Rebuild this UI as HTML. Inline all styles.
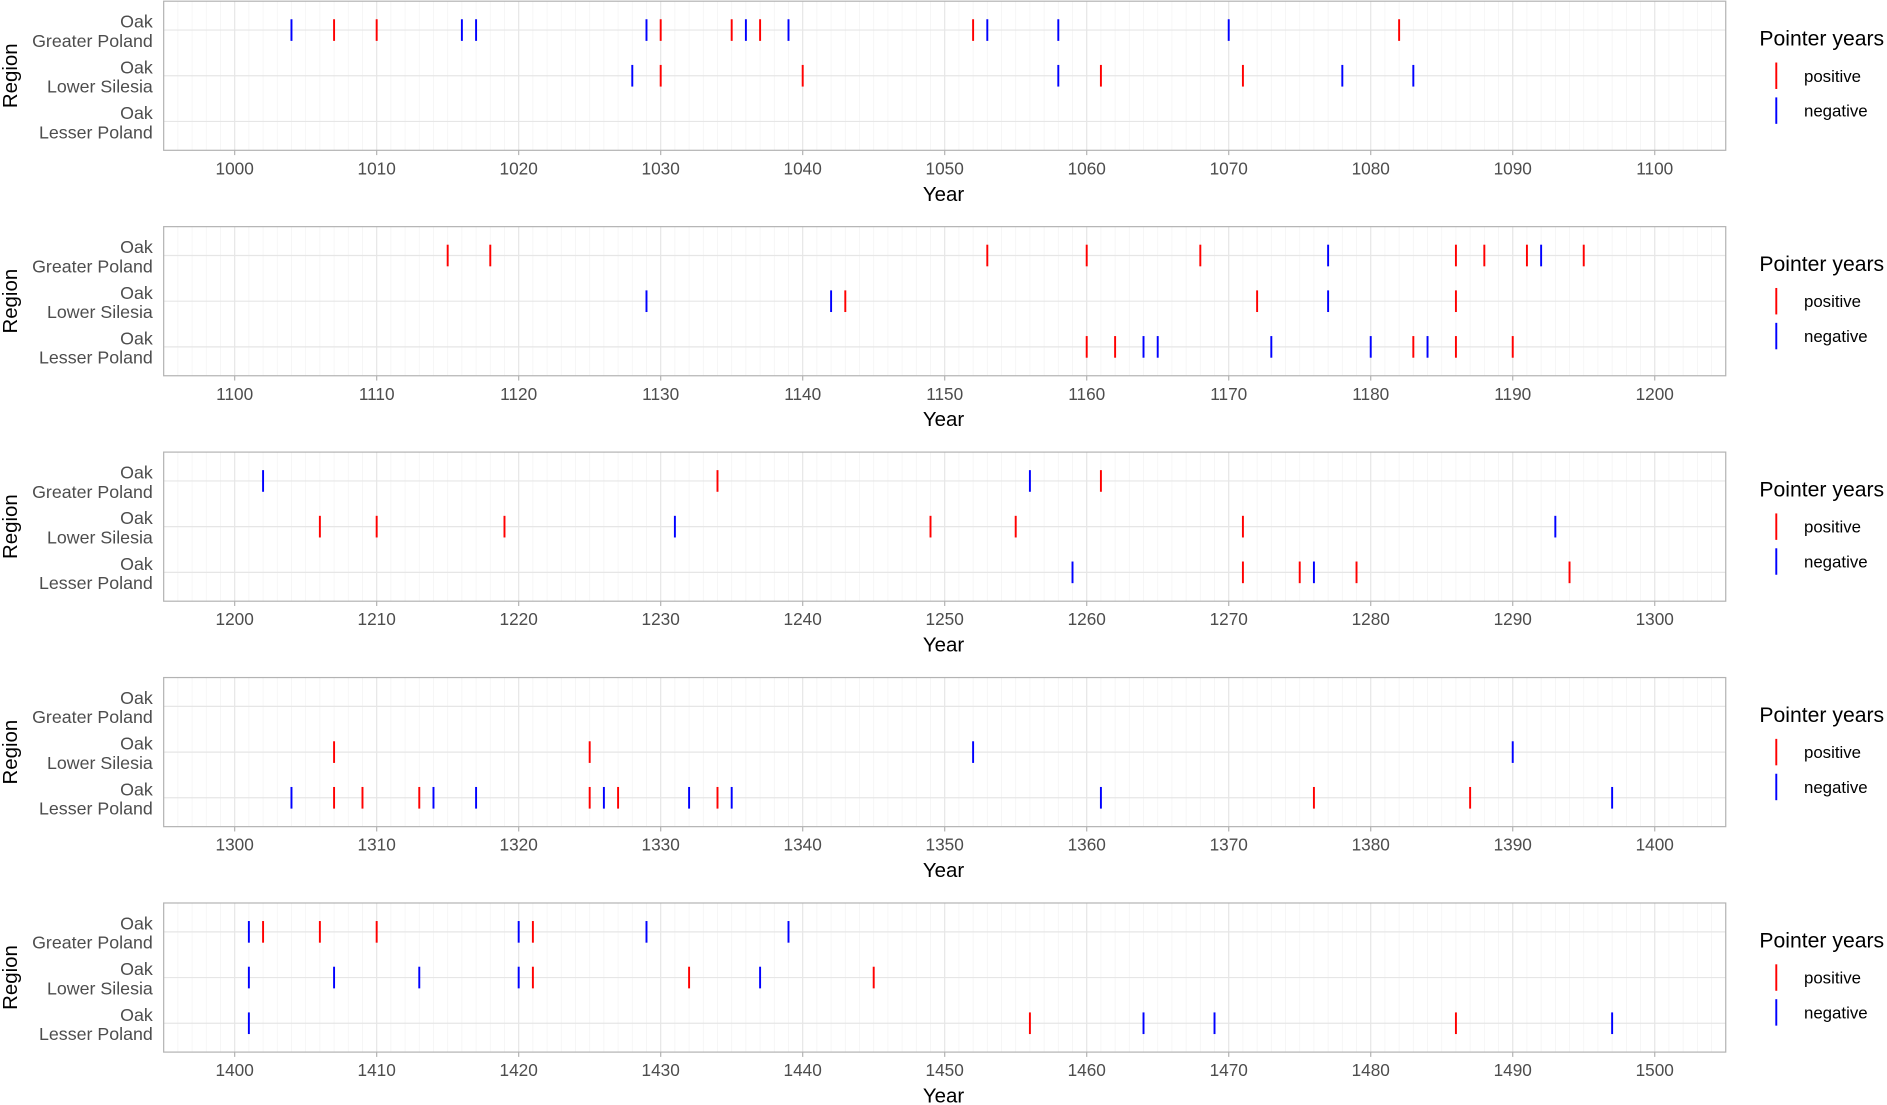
<!DOCTYPE html>
<html><head><meta charset="utf-8">
<style>
html,body{margin:0;padding:0;background:#fff;}
svg{display:block;font-family:"Liberation Sans",sans-serif;}
</style></head>
<body>
<svg id="chart" width="1887" height="1105" viewBox="0 0 1568 919" preserveAspectRatio="none" xmlns="http://www.w3.org/2000/svg"></svg>
<script>
const panelBases = [1000, 1100, 1200, 1300, 1400];
const regions = ["Greater Poland", "Lower Silesia", "Lesser Poland"];
// [year, regionIndex, type]  type: 'p' positive, 'n' negative
const panel1Events = [[1004,0,'n'],[1007,0,'p'],[1010,0,'p'],[1016,0,'n'],[1017,0,'n'],[1029,0,'n'],[1030,0,'p'],[1035,0,'p'],[1036,0,'n'],[1037,0,'p'],[1039,0,'n'],[1052,0,'p'],[1053,0,'n'],[1058,0,'n'],[1070,0,'n'],[1082,0,'p'],
[1028,1,'n'],[1030,1,'p'],[1040,1,'p'],[1058,1,'n'],[1061,1,'p'],[1071,1,'p'],[1078,1,'n'],[1083,1,'n']];
const panel2Events = [[1115,0,'p'],[1118,0,'p'],[1153,0,'p'],[1160,0,'p'],[1168,0,'p'],[1177,0,'n'],[1186,0,'p'],[1188,0,'p'],[1191,0,'p'],[1192,0,'n'],[1195,0,'p'],
[1129,1,'n'],[1142,1,'n'],[1143,1,'p'],[1172,1,'p'],[1177,1,'n'],[1186,1,'p'],
[1160,2,'p'],[1162,2,'p'],[1164,2,'n'],[1165,2,'n'],[1173,2,'n'],[1180,2,'n'],[1183,2,'p'],[1184,2,'n'],[1186,2,'p'],[1190,2,'p']];
const panel3Events = [[1202,0,'n'],[1234,0,'p'],[1256,0,'n'],[1261,0,'p'],
[1206,1,'p'],[1210,1,'p'],[1219,1,'p'],[1231,1,'n'],[1249,1,'p'],[1255,1,'p'],[1271,1,'p'],[1293,1,'n'],
[1259,2,'n'],[1271,2,'p'],[1275,2,'p'],[1276,2,'n'],[1279,2,'p'],[1294,2,'p']];
const panel4Events = [[1307,1,'p'],[1325,1,'p'],[1352,1,'n'],[1390,1,'n'],
[1304,2,'n'],[1307,2,'p'],[1309,2,'p'],[1313,2,'p'],[1314,2,'n'],[1317,2,'n'],[1325,2,'p'],[1326,2,'n'],[1327,2,'p'],[1332,2,'n'],[1334,2,'p'],[1335,2,'n'],[1361,2,'n'],[1376,2,'p'],[1387,2,'p'],[1397,2,'n']];
const panel5Events = [[1401,0,'n'],[1402,0,'p'],[1406,0,'p'],[1410,0,'p'],[1420,0,'n'],[1421,0,'p'],[1429,0,'n'],[1439,0,'n'],
[1401,1,'n'],[1407,1,'n'],[1413,1,'n'],[1420,1,'n'],[1421,1,'p'],[1432,1,'p'],[1437,1,'n'],[1445,1,'p'],
[1401,2,'n'],[1456,2,'p'],[1464,2,'n'],[1469,2,'n'],[1486,2,'p'],[1497,2,'n']];
const allEvents = [panel1Events, panel2Events, panel3Events, panel4Events, panel5Events];

const NS = "http://www.w3.org/2000/svg";
const svg = document.getElementById('chart');
function mk(tag, attrs, parent, text){
  const e = document.createElementNS(NS, tag);
  for (const k in attrs) e.setAttribute(k, attrs[k]);
  if (text !== undefined) e.textContent = text;
  parent.appendChild(e);
  return e;
}
const X0 = 136, X1 = 1434, PH = 124;
const rowY = [24, 62, 100];
const colors = {p:'#ff0000', n:'#0000ff'};

panelBases.forEach((base, pi) => {
  const top = 1 + pi * 187.5;
  const g = mk('g', {transform:`translate(0,${top})`}, svg);
  
  
  const xs = y => X0 + (y - (base - 5)) / 110 * (X1 - X0);
  for (let y = base - 5; y <= base + 105; y++) {
    const major = (y % 10 === 0);
    const l = mk('line', {x1:xs(y), x2:xs(y), y1:0, y2:PH, stroke: major ? '#e6e6e6' : '#f3f3f3', 'stroke-width': major ? 1 : 0.6}, g);
    
    
  }
  rowY.forEach(ry => {
    const l = mk('line', {x1:X0, x2:X1, y1:ry, y2:ry, stroke:'#e6e6e6', 'stroke-width':1}, g);
    
    
  });
  const frame = mk('rect', {x:X0, y:0, width:X1-X0, height:PH, fill:'none', stroke:'#b3b3b3', 'stroke-width':1}, g);
  
  
  allEvents[pi].forEach(ev => {
    const x = xs(ev[0]);
    const m = mk('line', {x1:x, x2:x, y1:rowY[ev[1]]-9, y2:rowY[ev[1]]+9, stroke:colors[ev[2]], 'stroke-width':1.6}, g);
    
    
  });
  regions.forEach((r, ri) => {
    const t1 = mk('text', {x:127, y:rowY[ri]-2, 'text-anchor':'end', 'font-size':14.8, fill:'#4d4d4d'}, g, 'Oak');
    
    
    const t2 = mk('text', {x:127, y:rowY[ri]+14, 'text-anchor':'end', 'font-size':14.8, fill:'#4d4d4d'}, g, r);
    
    
  });
  const yt = mk('text', {x:0, y:0, transform:'translate(14,62) rotate(-90)', 'text-anchor':'middle', 'font-size':17, fill:'#000'}, g, 'Region');
  
  
  for (let y = base; y <= base + 100; y += 10) {
    const tk = mk('line', {x1:xs(y), x2:xs(y), y1:PH, y2:PH+4, stroke:'#b3b3b3'}, g);
    
    
    const tl = mk('text', {x:xs(y), y:144, 'text-anchor':'middle', 'font-size':14.3, fill:'#4d4d4d'}, g, String(y));
    
    
  }
  const xt = mk('text', {x:784, y:166, 'text-anchor':'middle', 'font-size':17, fill:'#000'}, g, 'Year');
  
  
  const lg = mk('g', {}, g);
  
  
  const lt = mk('text', {x:1462, y:37, 'font-size':17.6, fill:'#000'}, lg, 'Pointer years');
  
  
  const lp = mk('line', {x1:1476, x2:1476, y1:51, y2:73, stroke:'#ff0000', 'stroke-width':1.6}, lg);
  
  
  const lpt = mk('text', {x:1499, y:67, 'font-size':14, fill:'#000'}, lg, 'positive');
  
  
  const ln = mk('line', {x1:1476, x2:1476, y1:80, y2:102, stroke:'#0000ff', 'stroke-width':1.6}, lg);
  
  
  const lnt = mk('text', {x:1499, y:96, 'font-size':14, fill:'#000'}, lg, 'negative');
  
  
});
</script>
</body></html>
